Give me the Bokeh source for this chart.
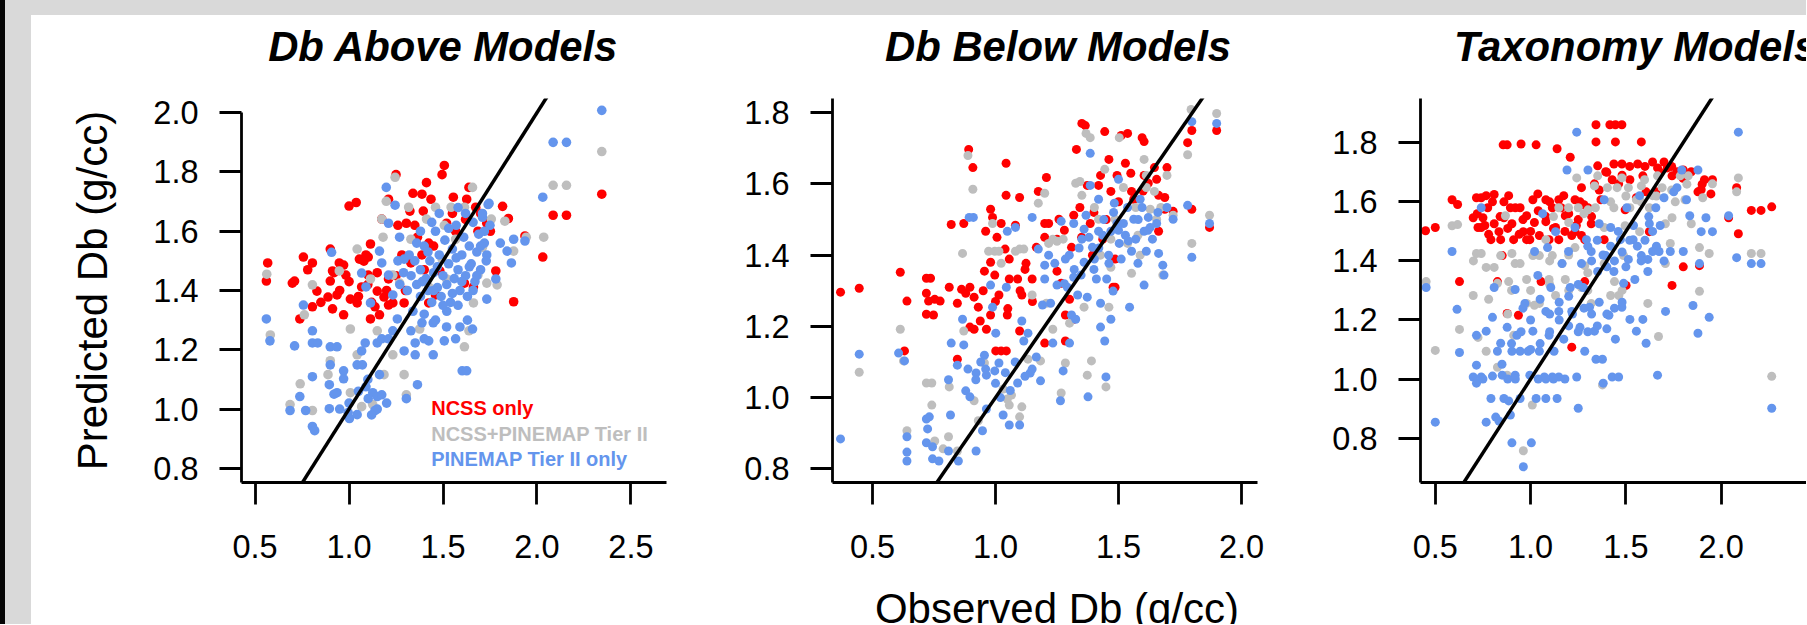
from bokeh.plotting import figure
from bokeh.models import Range1d, FixedTicker, PrintfTickFormatter, Label, Div
from bokeh.layouts import row, column
from bokeh.embed import file_html
from bokeh.resources import INLINE
import math

RED = "#FF0000"
GREY = "#BEBEBE"
BLUE = "#6495ED"
FONT = "Liberation Sans"

panel_titles = ["Db Above Models", "Db Below Models", "Taxonomy Models"]
legend_labels = ["NCSS only", "NCSS+PINEMAP Tier II", "PINEMAP Tier II only"]
x_label = "Observed Db (g/cc)"
y_label = "Predicted Db (g/cc)"

# ---------------- Panel 1: Db Above Models (observed, predicted) ----------------
above_ncss = [(0.567,1.493),(0.56,1.432),(0.698,1.425),(0.71,1.432),(0.757,1.513),(0.805,1.493),(0.78,1.47),
    (0.805,1.345),(0.738,1.304),(0.829,1.398),(0.9,1.54),(0.912,1.466),(0.9,1.432),(0.888,1.378),(0.912,1.338),
    (0.948,1.493),(0.971,1.486),(0.983,1.452),(0.936,1.385),(0.971,1.318),(1.0,1.685),(1.038,1.697),(1.007,1.371),
    (1.043,1.358),(1.079,1.499),(1.09,1.52),(1.114,1.557),(1.102,1.452),(1.067,1.412),(1.114,1.304),(1.138,1.345),
    (1.15,1.398),(1.186,1.378),(1.21,1.351),(1.174,1.641),(1.21,1.708),(1.25,1.791),(1.233,1.358),(1.281,1.52),
    (1.305,1.627),(1.324,1.668),(1.34,1.728),(1.388,1.725),(1.412,1.764),(1.436,1.708),(1.495,1.791),(1.507,1.822),
    (1.395,1.668),(1.364,1.58),(1.424,1.56),(1.388,1.52),(1.329,1.493),(1.555,1.715),(1.626,1.708),(1.638,1.748),
    (1.674,1.681),(1.752,1.6),(1.817,1.684),(1.848,1.643),(1.781,1.466),(1.876,1.362),(1.936,1.584),(2.031,1.513),
    (2.086,1.654),(2.157,1.654),(2.345,1.725),(1.614,1.425),(1.662,1.412),(1.46,1.385),(1.483,1.466),(1.424,1.358),
    (1.519,1.627),(1.567,1.6),(1.686,1.6),(1.733,1.627),(1.293,1.358),(1.162,1.318),(1.21,1.439),(1.055,1.506),
    (1.102,1.513),(1.26,1.62),(1.35,1.62),(1.45,1.55),(1.55,1.66),(1.62,1.64),(1.70,1.66),(1.40,1.47),(1.30,1.40),
    (0.95,1.40),(1.0,1.43),(1.05,1.38),(1.1,1.42),(1.15,1.46),(1.2,1.40),(1.25,1.45),(0.85,1.36),(0.92,1.46),
    (1.12,1.36)]
above_both = [(0.562,1.455),(0.581,1.25),(0.686,1.015),(0.74,1.085),(0.805,0.995),(0.805,1.419),(0.762,1.318),
    (0.9,1.163),(0.888,1.116),(1.007,1.27),(1.007,1.055),(1.043,1.54),(1.043,1.183),(1.067,1.008),(1.126,1.015),
    (1.15,1.264),(1.186,1.116),(1.174,1.641),(1.181,1.58),(1.198,1.701),(1.245,1.782),(1.233,1.452),(1.293,1.116),
    (1.305,1.048),(1.317,1.681),(1.376,1.27),(1.412,1.641),(1.46,1.681),(1.507,1.62),(1.543,1.681),(1.614,1.681),
    (1.657,1.748),(1.638,1.264),(1.614,1.21),(1.662,1.358),(1.686,1.452),(1.733,1.425),(1.757,1.641),(1.788,1.419),
    (1.829,1.634),(1.876,1.533),(1.943,1.58),(2.036,1.58),(2.086,1.755),(2.157,1.755),(2.345,1.869),(1.424,1.412),
    (1.519,1.439),(1.329,1.573),(1.495,1.506),(1.269,1.425),(1.114,1.439),(0.948,1.466),(1.567,1.573),(1.71,1.546),
    (1.233,1.183)]
above_pine = [(0.56,1.304),(0.579,1.23),(0.71,1.213),(0.757,1.351),(0.738,1.042),(0.686,0.995),(0.769,0.995),
    (0.805,0.941),(0.817,0.927),(0.805,1.264),(0.805,1.223),(0.805,1.109),(0.833,1.223),(0.9,1.21),(0.9,1.149),
    (0.895,1.082),(0.895,1.001),(0.936,1.21),(0.936,1.055),(0.971,1.129),(0.971,1.102),(0.995,0.988),(1.002,0.968),
    (1.043,0.981),(1.067,1.196),(1.086,1.223),(1.043,1.149),(1.071,1.149),(1.09,1.075),(1.102,1.035),(1.138,0.995),
    (1.126,1.055),(1.15,1.042),(1.174,1.048),(1.162,1.116),(1.15,1.223),(1.174,1.237),(1.21,1.237),(1.233,1.264),
    (1.257,1.304),(1.198,1.748),(1.245,1.688),(1.21,1.627),(0.907,1.529),(1.067,1.459),(1.09,1.412),(1.114,1.358),
    (1.162,1.533),(1.174,1.493),(1.21,1.452),(1.233,1.385),(1.269,1.58),(1.293,1.506),(1.293,1.196),(1.305,1.035),
    (1.364,1.082),(1.329,1.264),(1.352,1.223),(1.352,1.183),(1.388,1.291),(1.4,1.237),(1.424,1.23),(1.448,1.183),
    (1.448,1.291),(1.507,1.23),(1.519,1.277),(1.567,1.237),(1.59,1.277),(1.602,1.129),(1.626,1.129),(1.657,1.27),
    (1.733,1.371),(1.781,1.439),(1.864,1.493),(1.876,1.573),(1.936,1.567),(2.031,1.715),(2.086,1.9),(2.157,1.9),
    (2.345,2.008),(1.745,1.694),(1.71,1.647),(1.805,1.56),(1.841,1.533),(1.733,1.52),
    (1.33,1.45),(1.35,1.5),(1.36,1.42),(1.38,1.47),(1.38,1.38),(1.40,1.55),(1.41,1.44),(1.42,1.40),(1.43,1.50),
    (1.44,1.36),(1.45,1.46),(1.46,1.60),(1.47,1.41),(1.48,1.52),(1.49,1.38),(1.50,1.45),(1.51,1.57),(1.52,1.42),
    (1.53,1.49),(1.54,1.36),(1.55,1.54),(1.56,1.44),(1.57,1.62),(1.58,1.47),(1.59,1.40),(1.60,1.52),(1.61,1.58),
    (1.62,1.45),(1.63,1.38),(1.64,1.55),(1.65,1.49),(1.66,1.63),(1.67,1.43),(1.68,1.53),(1.69,1.59),(1.70,1.47),
    (1.71,1.66),(1.72,1.56),(1.73,1.50),(1.74,1.69),(1.75,1.62),(1.38,1.60),(1.34,1.33),(1.40,1.32),(1.46,1.30),
    (1.52,1.33),(1.58,1.35),(1.63,1.30),(1.44,1.63),(1.48,1.66),(1.36,1.56),(1.31,1.40),(1.32,1.52),(1.29,1.46),
    (1.27,1.42),(1.26,1.50),(1.55,1.39),(1.60,1.43),(1.66,1.40),(1.70,1.55),(1.62,1.66),(1.58,1.68),(1.53,1.61),
    (1.50,1.35),(1.47,1.48),(1.42,1.53),(1.39,1.43),(1.45,1.40),(1.57,1.51),(1.64,1.48),(1.68,1.45),(1.72,1.60),
    (0.95,1.0),(1.0,1.02),(1.05,1.06),(1.1,1.1),(1.15,1.0),(1.2,1.02),(1.12,0.98),(0.92,1.05)]

# ---------------- Panel 2: Db Below Models ----------------
below_ncss = [(0.37,1.296),(0.446,1.307),(0.613,1.352),(0.63,1.131),(0.64,1.271),(0.719,1.335),(0.736,1.335),
    (0.719,1.293),(0.728,1.271),(0.753,1.276),(0.775,1.271),(0.719,1.234),(0.748,1.232),(0.812,1.31),(0.82,1.486),
    (0.845,1.265),(0.862,1.304),(0.879,1.293),(0.896,1.31),(0.871,1.489),(0.891,1.697),(0.908,1.646),(0.845,1.108),
    (0.896,1.198),(0.913,1.192),(0.938,1.215),(0.963,1.192),(0.913,1.282),(0.93,1.254),(0.955,1.355),(0.96,1.467),
    (0.98,1.529),(0.988,1.506),(1.006,1.45),(0.997,1.344),(1.001,1.131),(1.023,1.131),(1.044,1.131),(1.043,1.658),
    (1.043,1.568),(1.023,1.489),(1.039,1.417),(1.056,1.389),(1.056,1.333),(1.048,1.232),(1.081,1.484),(1.098,1.562),
    (1.09,1.333),(1.107,1.288),(1.124,1.377),(1.149,1.333),(1.166,1.422),(1.174,1.579),(1.2,1.489),(1.207,1.618),
    (1.2,1.153),(1.216,1.489),(1.25,1.445),(1.258,1.501),(1.267,1.321),(1.284,1.159),(1.284,1.232),(1.301,1.276),
    (1.309,1.422),(1.318,1.512),(1.329,1.697),(1.343,1.534),(1.351,1.77),(1.365,1.764),(1.373,1.596),(1.385,1.489),
    (1.394,1.4),(1.419,1.596),(1.427,1.624),(1.444,1.747),(1.461,1.669),(1.469,1.579),(1.478,1.31),(1.486,1.31),
    (1.494,1.624),(1.511,1.736),(1.537,1.742),(1.528,1.658),(1.553,1.579),(1.562,1.557),(1.596,1.73),(1.604,1.719),
    (1.604,1.624),(1.621,1.602),(1.646,1.646),(1.655,1.613),(1.663,1.568),(1.688,1.562),(1.688,1.529),(1.697,1.646),
    (1.722,1.523),(1.781,1.716),(1.798,1.75),(1.798,1.529),(1.87,1.478),(1.899,1.75),(1.663,1.467),(1.436,1.445),
    (1.486,1.389),(1.318,1.22),(1.25,1.355),(1.098,1.187),(1.014,1.288),(0.98,1.232),
    (0.95,1.30),(1.0,1.27),(1.05,1.25),(1.1,1.30),(1.15,1.27),(0.98,1.38),(1.12,1.36),(1.2,1.45),(1.28,1.47),
    (1.35,1.45),(1.4,1.52),(1.45,1.50),(1.5,1.55),(1.55,1.63),(1.6,1.58)]
below_both = [(0.446,1.071),(0.613,1.192),(0.626,1.103),(0.64,0.907),(0.719,1.041),(0.741,1.041),(0.741,0.979),
    (0.753,0.878),(0.787,0.856),(0.809,0.89),(0.812,1.03),(0.845,0.85),(0.866,1.405),(0.871,1.187),(0.888,1.68),
    (0.908,1.585),(0.913,0.991),(0.93,0.935),(0.955,1.097),(0.972,1.411),(0.988,1.489),(0.997,1.411),(1.014,1.411),
    (1.023,1.377),(1.031,1.024),(1.048,0.996),(1.056,0.979),(1.065,1.007),(1.081,1.411),(1.098,1.417),(1.115,1.417),
    (1.098,0.946),(1.107,0.974),(1.132,1.108),(1.149,1.288),(1.174,1.546),(1.183,1.103),(1.2,1.574),(1.207,1.265),
    (1.216,1.433),(1.233,1.445),(1.233,1.192),(1.25,1.439),(1.267,1.013),(1.275,1.445),(1.284,1.097),(1.301,1.209),
    (1.326,1.602),(1.343,1.607),(1.351,1.568),(1.36,1.254),(1.368,1.742),(1.385,1.73),(1.373,1.063),(1.39,1.103),
    (1.402,1.534),(1.419,1.501),(1.427,1.4),(1.444,1.641),(1.449,1.03),(1.461,1.254),(1.469,1.366),(1.486,1.501),
    (1.503,1.73),(1.52,1.59),(1.537,1.433),(1.553,1.349),(1.579,1.456),(1.604,1.669),(1.613,1.59),(1.613,1.624),
    (1.629,1.529),(1.646,1.579),(1.655,1.501),(1.672,1.534),(1.68,1.344),(1.697,1.624),(1.722,1.512),(1.781,1.682),
    (1.795,1.809),(1.798,1.433),(1.87,1.512),(1.899,1.798),(1.588,1.4),(1.469,1.445),(1.57,1.534)]
below_pine = [(0.37,0.884),(0.446,1.122),(0.606,1.125),(0.63,1.103),(0.64,0.89),(0.64,0.847),(0.64,0.822),
    (0.719,0.94),(0.724,0.912),(0.731,0.946),(0.719,0.873),(0.744,0.862),(0.744,0.828),(0.77,0.822),(0.809,0.85),
    (0.817,0.951),(0.809,1.05),(0.82,1.153),(0.845,1.091),(0.849,0.822),(0.866,1.22),(0.871,1.148),(0.888,1.08),
    (0.879,1.019),(0.896,1.002),(0.893,1.506),(0.91,1.506),(0.921,1.069),(0.921,0.85),(0.947,0.907),(0.955,1.119),
    (0.963,1.063),(0.963,0.968),(0.98,1.316),(0.988,1.254),(0.997,1.075),(1.001,1.181),(1.014,1.097),(1.031,0.951),
    (1.048,1.467),(1.044,1.31),(1.056,0.923),(1.081,1.478),(1.09,1.041),(1.098,0.923),(1.107,1.215),(1.115,1.159),
    (1.132,1.181),(1.141,1.069),(1.149,1.506),(1.149,1.08),(1.166,1.114),(1.174,1.417),(1.183,1.047),(1.191,1.26),
    (1.2,1.372),(1.2,1.333),(1.216,1.4),(1.224,1.265),(1.233,1.153),(1.241,1.377),(1.25,1.316),(1.264,0.991),
    (1.267,1.495),(1.275,1.075),(1.284,1.389),(1.292,1.31),(1.301,1.153),(1.309,1.232),(1.318,1.338),(1.326,1.22),
    (1.334,1.288),(1.348,1.344),(1.351,1.445),(1.36,1.473),(1.373,1.282),(1.376,1.002),(1.385,1.686),(1.394,1.422),
    (1.402,1.389),(1.41,1.333),(1.419,1.557),(1.427,1.265),(1.427,1.198),(1.436,1.456),(1.444,1.159),(1.449,1.058),
    (1.452,1.333),(1.461,1.377),(1.469,1.22),(1.478,1.299),(1.483,1.546),(1.494,1.489),(1.5,1.613),(1.503,1.433),
    (1.511,1.389),(1.528,1.456),(1.537,1.534),(1.545,1.254),(1.553,1.411),(1.562,1.501),(1.57,1.445),(1.579,1.377),
    (1.596,1.534),(1.604,1.467),(1.604,1.316),(1.613,1.411),(1.621,1.506),(1.638,1.445),(1.655,1.489),(1.663,1.405),
    (1.68,1.372),(1.685,1.344),(1.697,1.534),(1.722,1.501),(1.781,1.54),(1.798,1.775),(1.798,1.394),(1.87,1.489),
    (1.899,1.77),(1.385,1.596),(1.368,1.512),(1.318,1.489),(1.419,1.467),(1.469,1.467),(1.52,1.489),(1.588,1.557),
    (1.629,1.478),
    (0.92,1.05),(0.96,1.08),(1.0,1.04),(1.04,1.07),(1.08,1.10),(1.12,1.06),(0.94,1.10),(1.02,1.00),(1.06,1.02),
    (1.3,1.40),(1.34,1.42),(1.38,1.45),(1.42,1.42),(1.46,1.40),(1.5,1.47),(1.54,1.44),(1.58,1.50),(1.62,1.47),
    (1.66,1.52),(1.44,1.50),(1.48,1.52),(1.4,1.36),(1.36,1.38),(1.32,1.36),(1.28,1.32)]

# ---------------- Panel 3: Taxonomy Models ----------------
taxo_ncss = [(0.449,1.502),(0.5,1.513),(0.588,1.607),(0.617,1.591),(0.627,1.33),(0.699,1.546),(0.716,1.614),
    (0.741,1.614),(0.767,1.621),(0.809,1.625),(0.724,1.513),(0.75,1.546),(0.775,1.58),(0.792,1.472),(0.809,1.526),
    (0.834,1.499),(0.826,1.33),(0.851,1.418),(0.856,1.793),(0.877,1.793),(0.885,1.621),(0.894,1.58),(0.902,1.526),
    (0.911,1.472),(0.877,1.222),(0.936,1.216),(0.945,1.58),(0.95,1.796),(0.962,1.499),(0.979,1.553),(0.996,1.472),
    (1.012,1.607),(1.029,1.793),(1.038,1.627),(1.046,1.486),(1.055,1.33),(1.08,1.533),(1.097,1.472),(1.114,1.58),
    (1.139,1.78),(1.148,1.472),(1.148,1.607),(1.174,1.621),(1.182,1.553),(1.208,1.751),(1.216,1.486),(1.216,1.108),
    (1.233,1.607),(1.25,1.54),(1.267,1.648),(1.284,1.472),(1.284,1.33),(1.301,1.58),(1.318,1.526),(1.335,1.661),
    (1.343,1.861),(1.343,1.803),(1.352,1.722),(1.369,1.607),(1.386,1.472),(1.394,1.702),(1.416,1.861),(1.445,1.861),
    (1.479,1.861),(1.445,1.803),(1.437,1.728),(1.462,1.661),(1.479,1.728),(1.496,1.573),(1.501,1.317),(1.521,1.675),
    (1.562,1.728),(1.581,1.803),(1.589,1.688),(1.606,1.634),(1.623,1.499),(1.64,1.735),(1.666,1.715),(1.7,1.735),
    (1.717,1.715),(1.742,1.317),(1.768,1.702),(1.801,1.708),(1.801,1.38),(1.843,1.702),(1.886,1.384),(1.895,1.641),
    (1.912,1.675),(1.946,1.627),(1.954,1.675),(2.081,1.648),(2.09,1.492),(2.039,1.546),(2.158,1.571),(2.209,1.571),
    (2.265,1.583),(1.657,1.634),(1.742,1.688),(1.878,1.634),(1.233,1.499),(1.267,1.486),(0.979,1.472),(0.843,1.472),
    (0.741,1.513),(0.86,1.546),(1.08,1.607),(1.131,1.513),(1.428,1.675),(1.555,1.614),
    (0.72,1.56),(0.76,1.52),(0.80,1.60),(0.84,1.55),(0.88,1.51),(0.92,1.58),(0.96,1.54),(1.00,1.50),(1.04,1.57),
    (1.08,1.55),(1.12,1.51),(1.16,1.58),(1.20,1.56),(1.24,1.52),(1.28,1.59),(1.32,1.55),(0.78,1.49),(0.86,1.60),
    (0.94,1.49),(1.02,1.53),(1.10,1.60),(1.18,1.50),(1.26,1.60),(1.36,1.64),(1.40,1.70),(1.48,1.69),(1.52,1.72),
    (1.60,1.72),(1.68,1.70),(1.74,1.72),(1.80,1.68),(1.90,1.66)]
taxo_both = [(0.452,1.33),(0.5,1.097),(0.588,1.519),(0.617,1.523),(0.627,1.168),(0.716,1.425),(0.741,1.425),
    (0.699,1.283),(0.724,1.141),(0.767,1.378),(0.767,1.094),(0.809,1.378),(0.826,1.324),(0.843,1.418),(0.868,1.553),
    (0.885,1.33),(0.902,1.425),(0.919,1.391),(0.945,1.391),(0.962,0.757),(0.979,1.337),(1.009,0.912),(1.012,1.418),
    (1.046,1.418),(1.046,1.256),(1.08,1.472),(1.097,1.337),(1.114,1.418),(1.131,1.283),(1.148,1.58),(1.165,1.391),
    (1.182,1.337),(1.199,1.58),(1.242,1.681),(1.25,1.58),(1.267,1.31),(1.284,1.384),(1.301,1.573),(1.318,1.256),
    (1.335,1.654),(1.352,1.688),(1.377,0.98),(1.386,1.513),(1.403,1.648),(1.42,1.283),(1.437,1.58),(1.454,1.648),
    (1.463,1.283),(1.479,1.681),(1.496,1.519),(1.513,1.648),(1.521,1.58),(1.555,1.607),(1.581,1.654),(1.598,1.675),
    (1.615,1.256),(1.623,1.58),(1.64,1.621),(1.666,1.688),(1.671,1.144),(1.69,1.648),(1.707,1.391),(1.733,1.459),
    (1.742,1.546),(1.759,1.6),(1.785,1.688),(1.81,1.607),(1.827,1.688),(1.843,1.526),(1.886,1.445),(1.886,1.297),
    (1.903,1.614),(1.937,1.425),(1.954,1.661),(2.09,1.681),(2.081,1.634),(2.158,1.425),(2.209,1.425),(2.265,1.009),
    (1.386,1.391),(1.488,1.418),(1.233,1.445),(0.979,1.256),(0.877,1.013),(0.826,1.04),(0.911,1.148),(1.572,1.499),
    (1.707,1.526),
    (1.12,1.55),(1.2,1.53),(1.28,1.56),(1.34,1.58),(1.42,1.60),(1.5,1.62),(1.58,1.60),(1.66,1.62),(1.74,1.64),
    (1.82,1.66),(0.9,1.30),(1.0,1.30),(1.1,1.32),(1.2,1.30),(1.3,1.30),(1.02,1.25),(0.88,1.22),(1.1,1.40),
    (1.2,1.42),(1.3,1.36),(1.44,1.33),(1.48,1.30),(0.7,1.40),(0.78,1.27)]
taxo_pine = [(0.452,1.31),(0.5,0.854),(0.588,1.432),(0.614,1.236),(0.627,1.09),(0.716,1.047),(0.699,1.007),
    (0.716,0.986),(0.741,1.007),(0.716,1.148),(0.741,1.58),(0.767,1.162),(0.767,0.854),(0.792,0.934),(0.8,1.209),
    (0.809,1.31),(0.817,0.871),(0.826,1.094),(0.834,0.858),(0.843,1.121),(0.851,1.013),(0.86,0.934),(0.877,1.175),
    (0.885,0.926),(0.894,0.878),(0.902,0.784),(0.902,1.094),(0.919,1.013),(0.919,1.303),(0.928,1.148),(0.945,1.094),
    (0.945,0.934),(0.962,0.703),(0.97,1.256),(0.987,1.094),(0.996,1.013),(1.004,0.784),(1.012,1.162),(1.021,1.432),
    (1.029,0.934),(1.038,1.351),(1.046,1.094),(1.063,1.56),(1.072,1.007),(1.08,1.229),(1.08,0.934),(1.089,1.445),
    (1.097,1.148),(1.106,1.31),(1.114,1.007),(1.123,1.094),(1.131,1.499),(1.139,0.934),(1.148,1.007),(1.148,1.229),
    (1.165,1.391),(1.174,1.135),(1.191,1.708),(1.199,1.432),(1.208,1.31),(1.216,1.229),(1.233,1.513),(1.242,1.836),
    (1.242,1.007),(1.25,0.901),(1.259,1.175),(1.267,1.391),(1.276,1.31),(1.284,1.094),(1.293,1.472),(1.301,1.708),
    (1.309,1.243),(1.318,1.432),(1.335,1.162),(1.343,1.067),(1.352,1.364),(1.36,1.526),(1.377,1.067),(1.381,0.986),
    (1.386,1.607),(1.394,1.418),(1.411,1.216),(1.42,1.513),(1.428,1.007),(1.437,1.364),(1.445,1.135),(1.462,1.007),
    (1.471,1.472),(1.479,1.243),(1.488,1.324),(1.505,1.58),(1.513,1.405),(1.521,1.202),(1.538,1.472),(1.547,1.337),
    (1.555,1.162),(1.572,1.621),(1.581,1.418),(1.589,1.202),(1.606,1.121),(1.615,1.405),(1.615,1.364),(1.623,1.526),
    (1.64,1.432),(1.657,1.58),(1.666,1.013),(1.674,1.432),(1.7,1.614),(1.708,1.229),(1.733,1.432),(1.751,1.634),
    (1.768,1.648),(1.793,1.708),(1.801,1.432),(1.818,1.607),(1.835,1.553),(1.852,1.249),(1.878,1.708),(1.878,1.155),
    (1.886,1.391),(1.895,1.499),(1.92,1.546),(1.937,1.209),(1.954,1.499),(2.039,1.553),(2.081,1.411),(2.09,1.836),
    (2.158,1.391),(2.209,1.391),(2.265,0.901),
    (1.3,1.45),(1.32,1.40),(1.35,1.47),(1.38,1.42),(1.40,1.38),(1.42,1.45),(1.44,1.40),(1.46,1.50),(1.48,1.43),
    (1.50,1.38),(1.52,1.47),(1.54,1.52),(1.56,1.45),(1.58,1.40),(1.60,1.47),(1.62,1.55),(1.64,1.50),(1.66,1.45),
    (1.68,1.52),(1.70,1.40),(1.25,1.32),(1.20,1.28),(1.15,1.20),(1.10,1.16),(1.05,1.12),(1.00,1.10),(0.95,1.16),
    (0.90,1.12),(0.85,1.05),(0.80,1.01),(0.75,1.00),(0.88,1.00),(0.92,1.00),(1.04,1.00),(1.08,1.00),(1.12,1.00),
    (1.18,1.00),(1.10,1.22),(1.15,1.26),(1.22,1.22),(1.28,1.24),(1.32,1.22),(1.36,1.26),(1.40,1.22),(1.44,1.24),
    (1.48,1.26),(1.00,1.20),(0.96,1.24),(1.05,1.27),(1.20,1.18),(1.25,1.16),(1.30,1.16),(1.35,1.18),(1.40,1.17)]

# axis limits and ticks
above_xlim, above_ylim = (0.4276, 2.6894), (0.752, 2.048)
below_xlim, below_ylim = (0.3374, 2.0650), (0.7615, 1.840)
taxo_xlim, taxo_ylim = (0.4224, 2.4475), (0.6496, 1.950)
above_xticks = [0.5, 1.0, 1.5, 2.0, 2.5]
above_yticks = [0.8, 1.0, 1.2, 1.4, 1.6, 1.8, 2.0]
other_xticks = [0.5, 1.0, 1.5, 2.0, 2.5]
other_yticks = [0.8, 1.0, 1.2, 1.4, 1.6, 1.8]

# page geometry (pixels)
FIG_H = 609
PAGE_TOP = 15          # figures start below the grey band
B_TOP, FRAME_H = 83, 384
FRAME_TOP = PAGE_TOP + B_TOP
FRAME_BOTTOM = FRAME_TOP + FRAME_H


def make_panel(page_left, width, b_left, b_right, xlim, ylim, xticks, yticks, series, size, ytop=None):
    p = figure(width=width, height=FIG_H, x_range=Range1d(*xlim), y_range=Range1d(*ylim),
               output_backend="svg", toolbar_location=None,
               min_border_left=b_left, min_border_right=b_right,
               min_border_top=B_TOP, min_border_bottom=FIG_H - B_TOP - FRAME_H)
    p.outline_line_color = None
    p.grid.visible = False
    p.background_fill_color = "white"
    p.border_fill_color = "white"
    for pts, col in series:
        xs = [a for a, b in pts]
        ys = [b for a, b in pts]
        p.scatter(xs, ys, size=size, fill_color=col, line_color=None)
    lo = min(xlim[0], ylim[0])
    hi = max(xlim[1], ylim[1])
    p.line([lo, hi], [lo, hi], line_color="black", line_width=3.5)
    for ax, ticks, standoff in ((p.xaxis[0], xticks, 30), (p.yaxis[0], yticks, 21)):
        ax.ticker = FixedTicker(ticks=ticks)
        ax.formatter = PrintfTickFormatter(format="%.1f")
        ax.major_tick_out = 22
        ax.major_tick_in = 0
        ax.minor_tick_out = 0
        ax.minor_tick_in = 0
        ax.major_tick_line_width = 2.8
        ax.major_tick_line_color = "black"
        ax.axis_line_width = 2.8
        ax.axis_line_color = "black"
        ax.major_label_text_font = FONT
        ax.major_label_text_font_size = "32.5px"
        ax.major_label_text_color = "black"
        ax.major_label_standoff = standoff
    if ytop is not None:
        p.yaxis[0].bounds = (ylim[0], ytop)
    frame_left = page_left + b_left
    frame_w = width - b_left - b_right
    # converters from page pixels to this panel's data coordinates (for text placement)
    p._px2x = lambda px: xlim[0] + (px - frame_left) / frame_w * (xlim[1] - xlim[0])
    p._px2y = lambda py: ylim[0] + (FRAME_BOTTOM - py) / FRAME_H * (ylim[1] - ylim[0])
    return p


def add_text(p, side, text, px, py, size, style="normal", color="black", align="left", angle=0.0):
    p.add_layout(Label(x=p._px2x(px), y=p._px2y(py), x_units="data", y_units="data", text=text,
                       text_font=FONT, text_font_size=size, text_font_style=style,
                       text_color=color, text_align=align, text_baseline="alphabetic",
                       angle=angle), side)


f1 = make_panel(31, 689, 210, 54, above_xlim, above_ylim, above_xticks, above_yticks,
                [(above_ncss, RED), (above_both, GREY), (above_pine, BLUE)], 9.6, ytop=2.0)
f2 = make_panel(720, 580, 112, 43, below_xlim, below_ylim, other_xticks, other_yticks,
                [(below_ncss, RED), (below_both, GREY), (below_pine, BLUE)], 9.0)
f3 = make_panel(1300, 506, 120, 0, taxo_xlim, taxo_ylim, other_xticks, other_yticks,
                [(taxo_ncss, RED), (taxo_both, GREY), (taxo_pine, BLUE)], 9.0)

# text anchors (page pixels), corrected for the renderer's baseline offset
add_text(f1, "above", panel_titles[0], 443, 46, "41.8px", style="bold italic", align="center")
add_text(f2, "above", panel_titles[1], 1057.6, 46, "41.8px", style="bold italic", align="center")
add_text(f3, "above", panel_titles[2], 1453.6, 46, "41.8px", style="bold italic", align="left")
add_text(f1, "left", y_label, 92, 290, "42px", align="center", angle=math.pi / 2)
add_text(f2, "below", x_label, 1056.5, 608, "42px", align="center")
for lbl, col, py in zip(legend_labels, [RED, GREY, BLUE], [407, 433, 458]):
    add_text(f1, "center", lbl, 430.7, py, "20px", style="bold", color=col)

black_band = Div(text="", width=5, height=PAGE_TOP + FIG_H, margin=0, styles={"background-color": "#050505"})
top_band = Div(text="", width=1801, height=PAGE_TOP, margin=0, styles={"background-color": "#d9d9d9"})
left_band = Div(text="", width=26, height=FIG_H, margin=0, styles={"background-color": "#d9d9d9"})
layout = row(black_band, column(top_band, row(left_band, f1, f2, f3, spacing=0), spacing=0), spacing=0)

with open("out.html", "w", encoding="utf-8") as fh:
    fh.write(file_html(layout, INLINE))
